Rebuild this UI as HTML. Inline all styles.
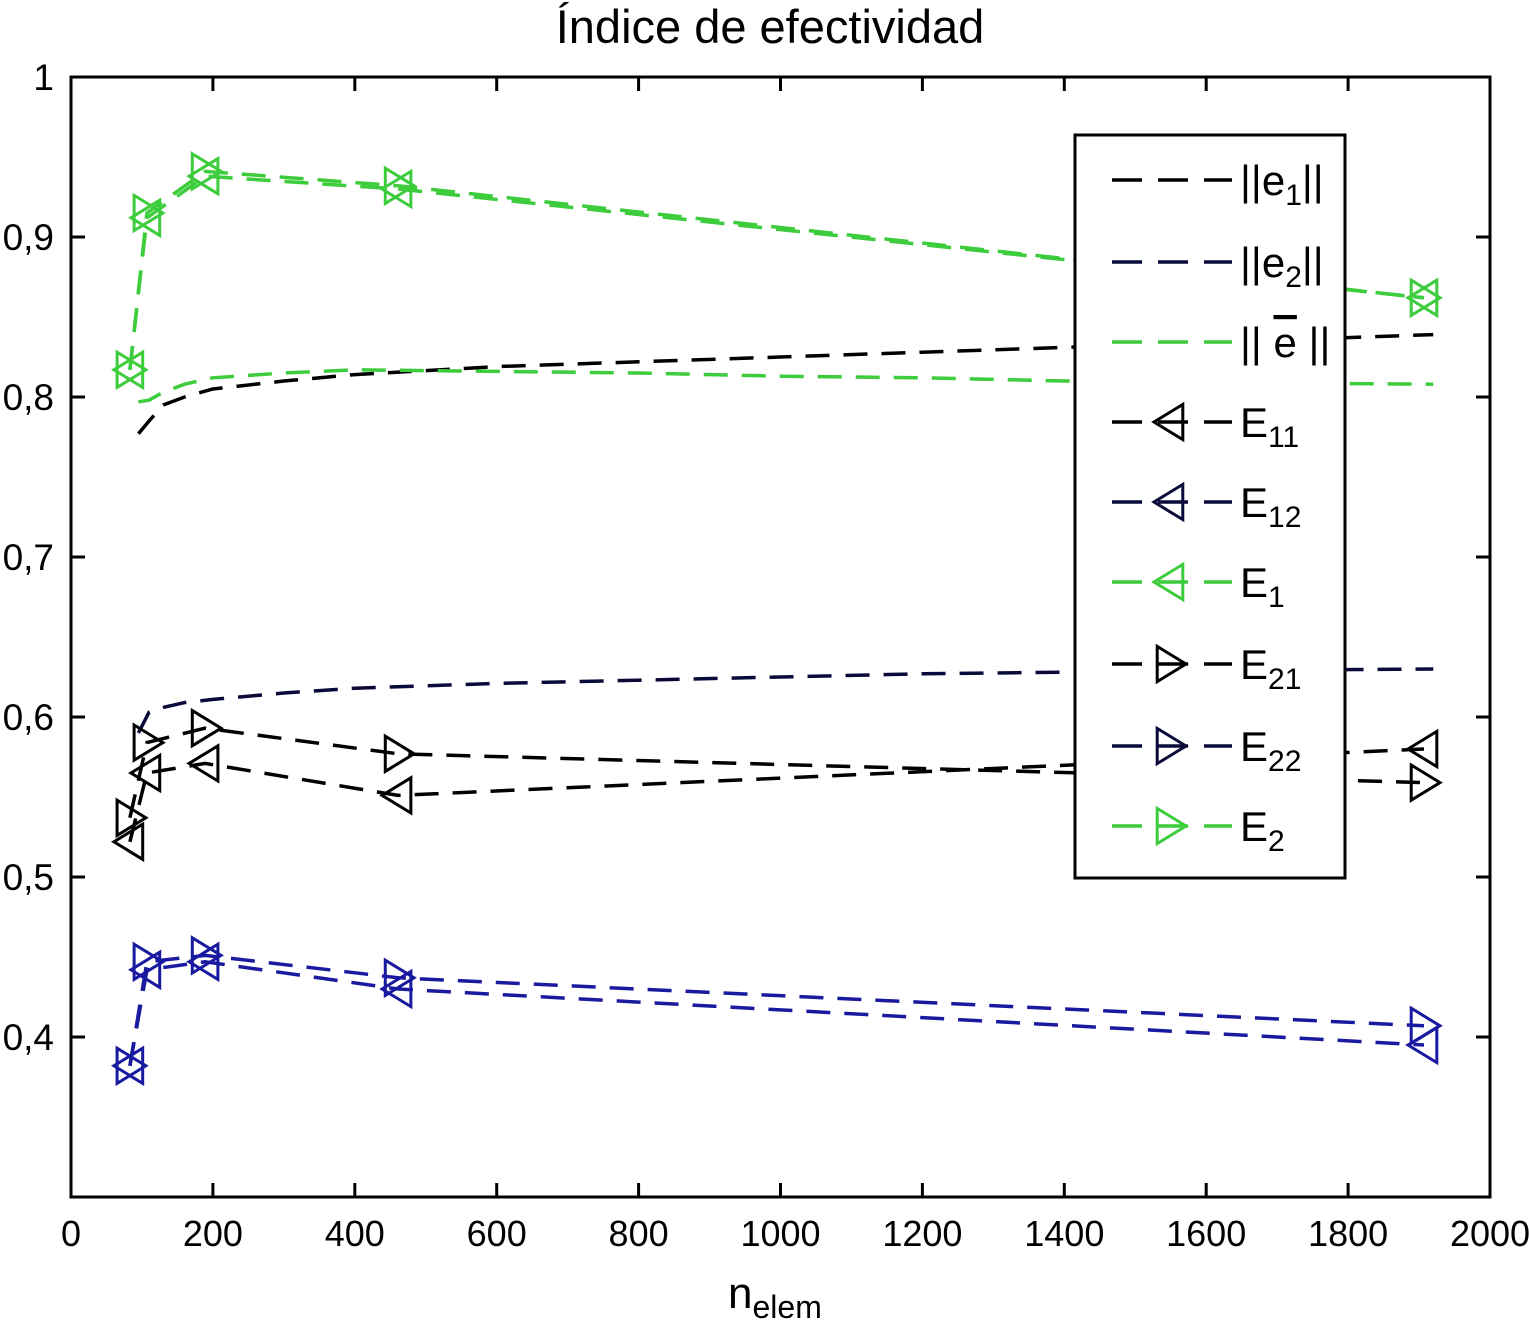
<!DOCTYPE html>
<html><head><meta charset="utf-8">
<style>
html,body{margin:0;padding:0;background:#fff;}
svg{display:block;font-family:"Liberation Sans",sans-serif;}
</style></head>
<body>
<svg id="chart" width="1529" height="1343" viewBox="0 0 1529 1343" xmlns="http://www.w3.org/2000/svg">
<rect x="0" y="0" width="1529" height="1343" fill="#fff"/>
<text x="770" y="43" font-size="47" text-anchor="middle">Índice de efectividad</text>
<g id="plot"></g>
<g id="axes"></g>
<text x="728" y="1308" font-size="44">n<tspan font-size="32" dy="10">elem</tspan></text>
<g id="legend"></g>
</svg>
<script>
const xTicks = [0,200,400,600,800,1000,1200,1400,1600,1800,2000];
const yTicks = [0.4,0.5,0.6,0.7,0.8,0.9,1];
const yTickLabels = ["0,4","0,5","0,6","0,7","0,8","0,9","1"];
const markerX = [83,107,189,461,1907];
const E11 = [0.522,0.565,0.571,0.551,0.580];
const E21 = [0.537,0.584,0.593,0.577,0.559];
const E12 = [0.382,0.442,0.447,0.430,0.395];
const E22 = [0.382,0.447,0.451,0.437,0.407];
const E1 = [0.817,0.912,0.938,0.930,0.862];
const E2 = [0.817,0.915,0.941,0.932,0.862];
const curveX = [95,110,130,160,200,300,400,600,800,1000,1200,1400,1600,1920];
const normE1 = [0.777,0.785,0.795,0.800,0.805,0.810,0.814,0.819,0.822,0.825,0.828,0.831,0.834,0.839];
const normE2 = [0.590,0.603,0.606,0.609,0.611,0.615,0.618,0.621,0.623,0.625,0.627,0.628,0.629,0.630];
const normEbar = [0.797,0.798,0.803,0.808,0.812,0.815,0.817,0.816,0.815,0.813,0.812,0.810,0.809,0.808];

const X0=71,X1=1490,Y0=1197,Y1=77;
const sx=v=>X0+(v-0)*(X1-X0)/2000;
const sy=v=>Y0-(v-0.3)*(Y0-Y1)/0.7;
const NS="http://www.w3.org/2000/svg";
function mk(tag,attrs,parent){const e=document.createElementNS(NS,tag);for(const k in attrs)e.setAttribute(k,attrs[k]);parent.appendChild(e);return e;}
const plot=document.getElementById('plot'), axes=document.getElementById('axes'), legend=document.getElementById('legend');

const box=mk('rect',{x:X0,y:Y1,width:X1-X0,height:Y0-Y1,fill:'none',stroke:'#000','stroke-width':3},axes);


xTicks.forEach(t=>{
  const x=sx(t);
  const l=mk('path',{d:`M${x} ${Y0}V${Y0-14}M${x} ${Y1}V${Y1+14}`,stroke:'#000','stroke-width':3},axes);
  
  
  const tx=mk('text',{x:x,y:1246,'font-size':36,'text-anchor':'middle'},axes);
  tx.textContent=t;
  
  
});
yTicks.forEach((t,i)=>{
  const y=sy(t);
  const l=mk('path',{d:`M${X0} ${y}H${X0+14}M${X1} ${y}H${X1-14}`,stroke:'#000','stroke-width':3},axes);
  
  
  const tx=mk('text',{x:54,y:y+13,'font-size':37,'text-anchor':'end'},axes);
  tx.textContent=yTickLabels[i];
  
  
});

const BLACK='#000', NAVY='#0a0a3a', GREEN='#3ccc3c', BLUE='#1a1aa0';
function line(xs,ys,color,name,w){
  const d=xs.map((x,i)=>(i?'L':'M')+sx(x)+' '+sy(ys[i])).join('');
  const p=mk('path',{d:d,fill:'none',stroke:color,'stroke-width':w||3.5,'stroke-dasharray':'24 14'},plot);
  
  
}
function tri(cx,cy,dir,color,parent){
  const s=16;
  const pts = dir<0 ? `${cx-s},${cy} ${cx+s*0.8},${cy-s*1.1} ${cx+s*0.8},${cy+s*1.1}` : `${cx+s},${cy} ${cx-s*0.8},${cy-s*1.1} ${cx-s*0.8},${cy+s*1.1}`;
  return mk('polygon',{points:pts,fill:'none',stroke:color,'stroke-width':3},parent);
}
function series(ys,dir,color,name){
  line(markerX,ys,color,name+'-line');
  markerX.forEach((x,i)=>{
    const m=tri(sx(x),sy(ys[i]),dir,color,plot);
    
    
  });
}
line(curveX,normE1,BLACK,'norm-e1-line');
line(curveX,normE2,NAVY,'norm-e2-line');
line(curveX,normEbar,GREEN,'norm-ebar-line');
series(E11,-1,BLACK,'e11');
series(E21,1,BLACK,'e21');
series(E12,-1,BLUE,'e12');
series(E22,1,BLUE,'e22');
series(E1,-1,GREEN,'e1');
series(E2,1,GREEN,'e2');

const lb=mk('rect',{x:1075,y:135,width:270,height:743,fill:'#fff',stroke:'#000','stroke-width':3},legend);


const legItems=[
 {c:BLACK,m:0,html:'||e<tspan font-size="30" dy="10">1</tspan><tspan dy="-10">||</tspan>'},
 {c:NAVY,m:0,html:'||e<tspan font-size="30" dy="10">2</tspan><tspan dy="-10">||</tspan>'},
 {c:GREEN,m:0,html:'|| <tspan text-decoration="overline">e</tspan> ||'},
 {c:BLACK,m:-1,html:'E<tspan font-size="30" dy="10">11</tspan>'},
 {c:NAVY,m:-1,html:'E<tspan font-size="30" dy="10">12</tspan>'},
 {c:GREEN,m:-1,html:'E<tspan font-size="30" dy="10">1</tspan>'},
 {c:BLACK,m:1,html:'E<tspan font-size="30" dy="10">21</tspan>'},
 {c:NAVY,m:1,html:'E<tspan font-size="30" dy="10">22</tspan>'},
 {c:GREEN,m:1,html:'E<tspan font-size="30" dy="10">2</tspan>'}
];
const legY=[180,262,342,422,502,582,664,746,826];
legItems.forEach((it,i)=>{
  const g=mk('g',{},legend);
  
  
  const y=legY[i];
  mk('path',{d:`M1112 ${y}H1232`,stroke:it.c,'stroke-width':3.5,'stroke-dasharray':'30 16'},g);
  if(it.m) tri(1170,y,it.m,it.c,g);
  const t=mk('text',{x:1240,y:y+15,'font-size':42},g);
  t.innerHTML=it.html;
});
</script>
</body></html>
